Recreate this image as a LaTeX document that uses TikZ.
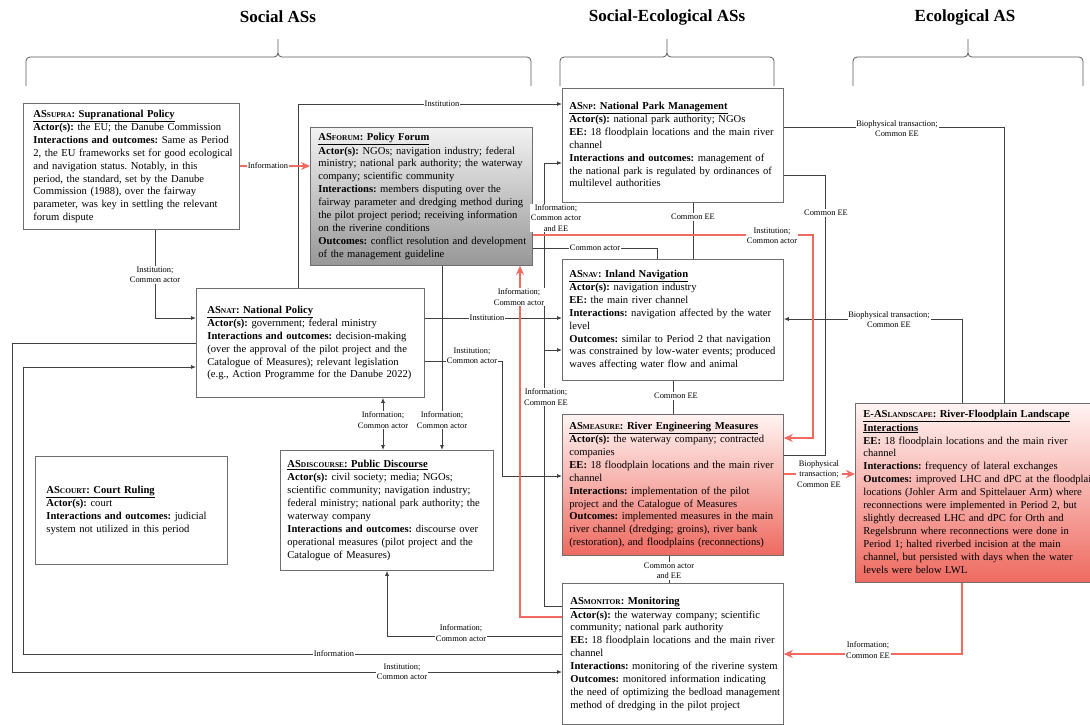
\documentclass[tikz,border=0pt]{standalone}
\usepackage{fontspec}
\setmainfont{Liberation Serif}
\usetikzlibrary{arrows.meta}

\definecolor{linegray}{HTML}{404040}
\definecolor{boxgray}{HTML}{6E6E6E}
\definecolor{redline}{HTML}{F06A5F}
\definecolor{redtop}{HTML}{FFF4F3}
\definecolor{redbot}{HTML}{EE6A60}
\definecolor{forumtop}{HTML}{F2F2F2}
\definecolor{forumbot}{HTML}{979797}

\newcommand{\ac}[1]{{\fontsize{7.4}{9}\selectfont #1}}
\newcommand{\hdr}[1]{\underline{\textbf{#1}}}
\newcommand{\astext}[1]{\begin{tabular}{@{}l@{}}#1\end{tabular}}
\frenchspacing

\begin{document}
\begin{tikzpicture}[x=1pt,y=-1pt,
  asbox/.style={draw=boxgray, line width=0.8pt, anchor=north west, align=left, inner ysep=0pt, font=\fontsize{10.6}{12.9}\selectfont},
  conn/.style={draw=linegray, line width=0.8pt},
  redconn/.style={draw=redline, line width=1.5pt},
  arr/.style={-{Latex[length=5pt,width=4pt]}},
  arrboth/.style={{Latex[length=5pt,width=4pt]}-{Latex[length=5pt,width=4pt]}},
  redarr/.style={-{Stealth[length=9pt,width=8pt]}},
  lbl/.style={fill=white, inner sep=0.8pt, align=center, font=\fontsize{8.4}{10.2}\selectfont},
  grouptitle/.style={font=\fontsize{17}{20}\selectfont\bfseries},
  grpbrace/.style={draw=black!65, line width=0.8pt, rounded corners=4pt}]
\useasboundingbox (0,0) rectangle (1090,724);

% group titles and braces
\node[grouptitle] (tsoc) at (278,17) {Social ASs};
\node[grouptitle] (tse) at (667,17) {Social-Ecological ASs};
\node[grouptitle] (teco) at (965,17) {Ecological AS};
\draw[grpbrace] (26,86) -- (26,57) -- (278,57) -- (278,39) (531,86) -- (531,57) -- (278,57) -- (278,39);
\draw[grpbrace] (560,86) -- (560,57) -- (667,57) -- (667,39) (774,86) -- (774,57) -- (667,57) -- (667,39);
\draw[grpbrace] (853,86) -- (853,57) -- (968,57) -- (968,39) (1083,86) -- (1083,57) -- (968,57) -- (968,39);

% action situations
\node[asbox, text width=196pt, inner xsep=10pt, minimum height=126pt] (supra) at (23,103) {\astext{%
\hdr{AS\ac{SUPRA}: Supranational Policy}\\
\textbf{Actor(s):} the EU; the Danube Commission\\
\textbf{Interactions and outcomes:} Same as Period\\
2, the EU frameworks set for good ecological\\
and navigation status. Notably, in this\\
period, the standard, set by the Danube\\
Commission (1988), over the fairway\\
parameter, was key in settling the relevant\\
forum dispute}};

\node[asbox, top color=forumtop, bottom color=forumbot, text width=206pt, inner xsep=8pt, minimum height=138pt] (forum) at (310,127) {\astext{%
\hdr{AS\ac{FORUM}: Policy Forum}\\
\textbf{Actor(s):} NGOs; navigation industry; federal\\
ministry; national park authority; the waterway\\
company; scientific community\\
\textbf{Interactions:} members disputing over the\\
fairway parameter and dredging method during\\
the pilot project period; receiving information\\
on the riverine conditions\\
\textbf{Outcomes:} conflict resolution and development\\
of the management guideline}};

\node[asbox, text width=207pt, inner xsep=7pt, minimum height=114pt] (np) at (562,88) {\astext{%
\hdr{AS\ac{NP}: National Park Management}\\
\textbf{Actor(s):} national park authority; NGOs\\
\textbf{EE:} 18 floodplain locations and the main river\\
channel\\
\textbf{Interactions and outcomes:} management of\\
the national park is regulated by ordinances of\\
multilevel authorities}};

\node[asbox, text width=207pt, inner xsep=7pt, minimum height=121pt] (nav) at (562,259) {\astext{%
\hdr{AS\ac{NAV}: Inland Navigation}\\
\textbf{Actor(s):} navigation industry\\
\textbf{EE:} the main river channel\\
\textbf{Interactions:} navigation affected by the water\\
level\\
\textbf{Outcomes:} similar to Period 2 that navigation\\
was constrained by low-water events; produced\\
waves affecting water flow and animal}};

\node[asbox, text width=206pt, inner xsep=11pt, minimum height=109pt] (nat) at (196,288) {\astext{%
\hdr{AS\ac{NAT}: National Policy}\\
\textbf{Actor(s):} government; federal ministry\\
\textbf{Interactions and outcomes:} decision-making\\
(over the approval of the pilot project and the\\
Catalogue of Measures); relevant legislation\\
(e.g., Action Programme for the Danube 2022)}};

\node[asbox, text width=170pt, inner xsep=11pt, minimum height=108pt] (court) at (35,456) {\astext{%
\hdr{AS\ac{COURT}: Court Ruling}\\
\textbf{Actor(s):} court\\
\textbf{Interactions and outcomes:} judicial\\
system not utilized in this period}};

\node[asbox, text width=199pt, inner xsep=7pt, minimum height=120pt] (discourse) at (280,450) {\astext{%
\hdr{AS\ac{DISCOURSE}: Public Discourse}\\
\textbf{Actor(s):} civil society; media; NGOs;\\
scientific community; navigation industry;\\
federal ministry; national park authority; the\\
waterway company\\
\textbf{Interactions and outcomes:} discourse over\\
operational measures (pilot project and the\\
Catalogue of Measures)}};

\node[asbox, top color=redtop, bottom color=redbot, text width=207pt, inner xsep=7pt, minimum height=141pt] (measure) at (562,414) {\astext{%
\hdr{AS\ac{MEASURE}: River Engineering Measures}\\
\textbf{Actor(s):} the waterway company; contracted\\
companies\\
\textbf{EE:} 18 floodplain locations and the main river\\
channel\\
\textbf{Interactions:} implementation of the pilot\\
project and the Catalogue of Measures\\
\textbf{Outcomes:} implemented measures in the main\\
river channel (dredging; groins), river bank\\
(restoration), and floodplains (reconnections)}};

\node[asbox, top color=redtop, bottom color=redbot, text width=224pt, inner xsep=8pt, minimum height=179pt] (eas) at (855,403) {\astext{%
\hdr{E-AS\ac{LANDSCAPE}: River-Floodplain Landscape}\\
\hdr{Interactions}\\
\textbf{EE:} 18 floodplain locations and the main river\\
channel\\
\textbf{Interactions:} frequency of lateral exchanges\\
\textbf{Outcomes:} improved LHC and dPC at the floodplain\\
locations (Johler Arm and Spittelauer Arm) where\\
reconnections were implemented in Period 2, but\\
slightly decreased LHC and dPC for Orth and\\
Regelsbrunn where reconnections were done in\\
Period 1; halted riverbed incision at the main\\
channel, but persisted with days when the water\\
levels were below LWL}};

\node[asbox, text width=205pt, inner xsep=8pt, minimum height=141pt] (monitor) at (562,583) {\astext{%
\hdr{AS\ac{MONITOR}: Monitoring}\\
\textbf{Actor(s):} the waterway company; scientific\\
community; national park authority\\
\textbf{EE:} 18 floodplain locations and the main river\\
channel\\
\textbf{Interactions:} monitoring of the riverine system\\
\textbf{Outcomes:} monitored information indicating\\
the need of optimizing the bedload management\\
method of dredging in the pilot project}};

% black connectors
\draw[conn,arr] (nat.north -| 298,0) |- (np.west |- 0,104);
\draw[conn,arr] (supra.south -| 155,0) |- (nat.west |- 0,318);
\draw[conn,arr] (nat.east |- 0,318) -- (nav.west |- 0,318);
\draw[conn,arr] (nat.east |- 0,361) -| (502,476) -- (measure.west |- 0,476);
\draw[conn,arr] (forum.south -| 442,0) -- (discourse.north -| 442,0);
\draw[conn,arrboth] (nat.south -| 383,0) -- (discourse.north -| 383,0);
\draw[conn,arr] (monitor.west |- 0,636) -| (discourse.south -| 387,0);
\draw[conn,arr] (monitor.west |- 0,654) -| (23,367) -- (nat.west |- 0,367);
\draw[conn,arr] (nat.west |- 0,343) -| (12,672) -- (monitor.west |- 0,672);
\draw[conn] (forum.east |- 0,248) -| (nav.north -| 657,0);
\draw[conn] (np.south -| 693,0) -- (nav.north -| 693,0);
\coordinate (navjoin) at (544,350);
\draw[conn,arr] (monitor.west |- 0,606) -| (544,163) -- (np.west |- 0,163);
\draw[conn,arr] (navjoin) -- (nav.west |- navjoin);
\draw[conn] (np.east |- 0,175) -| (825,455) -- (measure.east |- 0,455);
\draw[conn] (np.east |- 0,127) -| (eas.north -| 1004,0);
\draw[conn,arr] (eas.north -| 962,0) |- (nav.east |- 0,319);
\draw[conn] (nav.south -| 673,0) -- (measure.north -| 673,0);
\draw[conn] (measure.south -| 669,0) -- (monitor.north -| 669,0);

% red connectors
\draw[redconn,redarr] (supra.east |- 0,166) -- (forum.west |- 0,166);
\draw[redconn,redarr] (monitor.west |- 0,617) -| (forum.south -| 520,0);
\draw[redconn,redarr] (forum.east |- 0,235) -| (813,438) -- (measure.east |- 0,438);
\draw[redconn,redarr] (measure.east |- 0,474) -- (eas.west |- 0,474);
\draw[redconn,redarr] (eas.south -| 962,0) |- (monitor.east |- 0,654);

% connector labels
\node[lbl] (lblA) at (442,104) {Institution};
\node[lbl] (lblB) at (268,166) {Information};
\node[lbl] (lblC) at (155,275) {Institution;\\Common actor};
\node[lbl] (lblD) at (487,318) {Institution};
\node[lbl] (lblE) at (472,356) {Institution;\\Common actor};
\node[lbl] (lblF) at (442,420) {Information;\\Common actor};
\node[lbl] (lblG) at (383,420) {Information;\\Common actor};
\node[lbl] (lblH) at (461,633) {Information;\\Common actor};
\node[lbl] (lblI) at (334,654) {Information};
\node[lbl] (lblJ) at (402,672) {Institution;\\Common actor};
\node[lbl] (lblK) at (519,297) {Information;\\Common actor};
\node[lbl] (lblL) at (772,236) {Institution;\\Common actor};
\node[lbl] (lblM) at (595,248) {Common actor};
\node[lbl] (lblN) at (693,217) {Common EE};
\node[lbl] (lblO) at (556,218) {Information;\\Common actor\\and EE};
\node[lbl] (lblOn) at (546,397) {Information;\\Common EE};
\node[lbl] (lblP) at (826,213) {Common EE};
\node[lbl] (lblQ) at (897,129) {Biophysical transaction;\\Common EE};
\node[lbl] (lblR) at (889,320) {Biophysical transaction;\\Common EE};
\node[lbl] (lblS) at (819,474) {Biophysical\\transaction;\\Common EE};
\node[lbl] (lblT) at (868,650) {Information;\\Common EE};
\node[lbl] (lblU) at (676,396) {Common EE};
\node[lbl] (lblV) at (669,571) {Common actor\\and EE};
\end{tikzpicture}
\end{document}
